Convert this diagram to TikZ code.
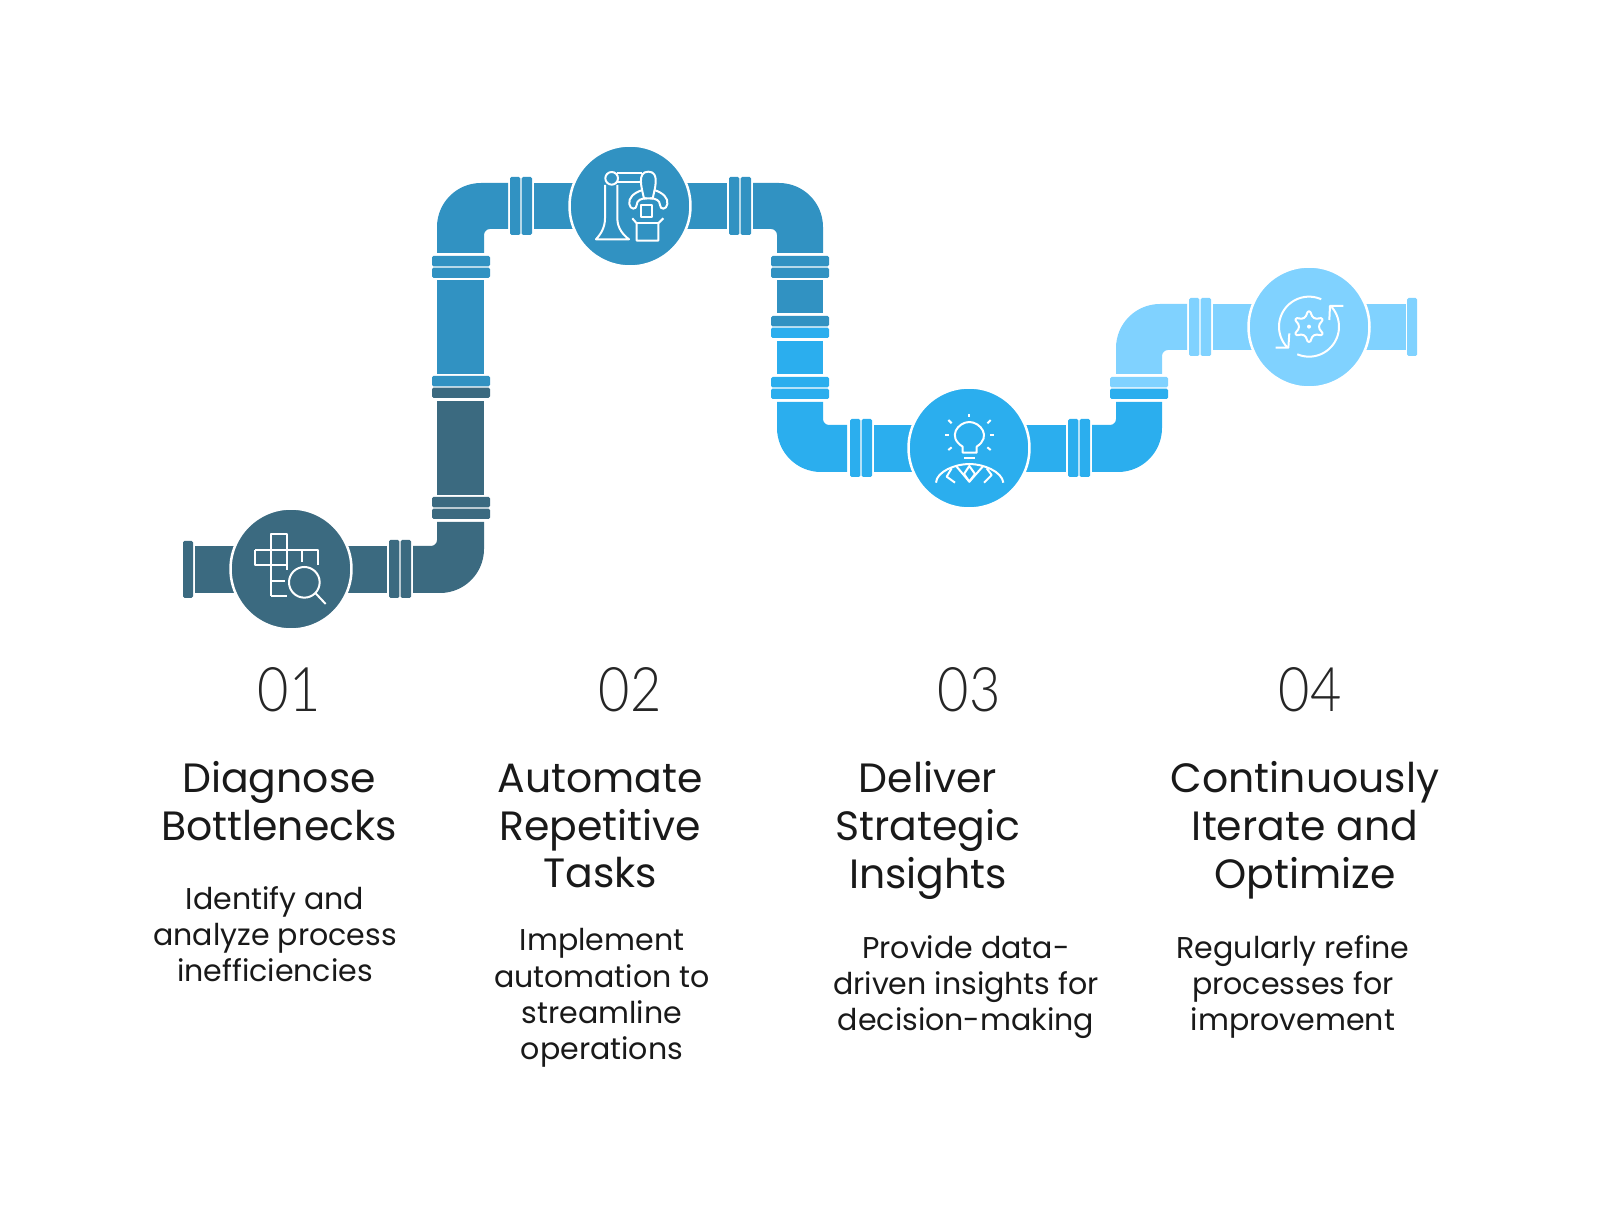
\documentclass[tikz,border=0pt]{standalone}
\usepackage{fontspec}
\usepackage{xcolor}
\usetikzlibrary{positioning}
\setmainfont{Poppins}
\newfontfamily\numfont[FakeStretch=0.88]{Lato Light}
\definecolor{pipedark}{HTML}{3B6A80}
\definecolor{pipeblue}{HTML}{3192C2}
\definecolor{pipebright}{HTML}{2BAEEE}
\definecolor{pipelight}{HTML}{80D2FF}
\tikzset{
  hub/.style={circle,draw=white,line width=0.05cm,inner sep=0pt,minimum size=2.42cm},
  iconline/.style={draw=white,line width=0.04cm,line join=round},
  bigbend/.style={rounded corners=0.88cm},
  smallbend/.style={rounded corners=0.12cm},
  numlabel/.style={font=\numfont\fontsize{35}{35}\selectfont,text=black!85},
  steptitle/.style={align=center,text=black!90,font=\fontsize{23.3}{27.3}\selectfont},
  stepdesc/.style={align=center,text=black!90,font=\fontsize{17.1}{20.6}\selectfont},
}
\begin{document}
\begin{tikzpicture}[x=0.02cm,y=-0.02cm]
\useasboundingbox (0,0) rectangle (1600,1212);
%straight pipes
\foreach \xa/\ya/\xb/\yb/\c in {195/546/291/593/pipedark,291/546/387/593/pipedark,
  437/401/484/495/pipedark,437/280/484/374/pipeblue,534/183/630/229/pipeblue,630/183/727/229/pipeblue,
  777/280/823/313/pipeblue,777/341/823/374/pipebright,874/425/969/472/pipebright,969/425/1066/472/pipebright,
  1213/304/1309/350/pipelight,1309/304/1406/350/pipelight}
  \fill[\c] (\xa,\ya) rectangle (\xb,\yb);
%end caps
\fill[pipedark,rounded corners=0.03cm] (183,541) rectangle (193,598);
\fill[pipelight,rounded corners=0.03cm] (1407,298) rectangle (1417,356);
%bends
\fill[pipedark] (413,546) [smallbend] -- (437,546) [sharp corners] -- (437,522) -- (484,522) [bigbend] -- (484,593) [sharp corners] -- (413,593) -- cycle;
\fill[pipeblue] (508,229) [smallbend] -- (484,229) [sharp corners] -- (484,253) -- (437,253) [bigbend] -- (437,183) [sharp corners] -- (508,183) -- cycle;
\fill[pipeblue] (753,229) [smallbend] -- (777,229) [sharp corners] -- (777,253) -- (823,253) [bigbend] -- (823,183) [sharp corners] -- (753,183) -- cycle;
\fill[pipebright] (847,425) [smallbend] -- (823,425) [sharp corners] -- (823,402) -- (777,402) [bigbend] -- (777,472) [sharp corners] -- (847,472) -- cycle;
\fill[pipebright] (1092,425) [smallbend] -- (1116,425) [sharp corners] -- (1116,402) -- (1162,402) [bigbend] -- (1162,472) [sharp corners] -- (1092,472) -- cycle;
\fill[pipelight] (1187,350) [smallbend] -- (1162,350) [sharp corners] -- (1162,374) -- (1116,374) [bigbend] -- (1116,304) [sharp corners] -- (1187,304) -- cycle;
%flanges on the level runs
\foreach \x/\y/\c in {400/569/pipedark,521/206/pipeblue,740/206/pipeblue,861/448/pipebright,1079/448/pipebright,1200/327/pipelight}
{
  \fill[shift={(\x,\y)},\c,rounded corners=0.03cm] (-11,-29) rectangle (-0.6,29);
  \fill[shift={(\x,\y)},\c,rounded corners=0.03cm] (0.6,-29) rectangle (11,29);
}
%flanges on the upright runs
\foreach \x/\y/\ca/\cb in {461/508/pipedark/pipedark,461/387/pipeblue/pipedark,461/267/pipeblue/pipeblue,
  800/267/pipeblue/pipeblue,800/327/pipeblue/pipebright,800/388/pipebright/pipebright,1139/388/pipelight/pipebright}
{
  \fill[shift={(\x,\y)},\ca,rounded corners=0.03cm] (-29,-11) rectangle (29,-0.6);
  \fill[shift={(\x,\y)},\cb,rounded corners=0.03cm] (-29,0.6) rectangle (29,11);
}
%hubs
\node[hub,fill=pipedark] (hubone) at (291,569) {};
\node[hub,fill=pipeblue] (hubtwo) at (630,206) {};
\node[hub,fill=pipebright] (hubthree) at (969,448) {};
\node[hub,fill=pipelight] (hubfour) at (1309,327) {};
%icon 01
\begin{scope}[shift={(170,380)},scale=1/3]
\draw[iconline] (303,648) -- (303,463) -- (350,463) -- (350,570);
\draw[iconline] (256,510) -- (443,510) -- (443,555);
\draw[iconline] (256,510) -- (256,555) -- (350,555);
\draw[iconline] (395,510) -- (395,545);
\draw[iconline] (303,602) -- (345,602);
\draw[iconline] (303,648) -- (350,648);
\draw[iconline] (403,607) circle (46);
\draw[iconline] (437,640) -- (467,672);
\end{scope}
%icon 02
\begin{scope}[shift={(420,130)},scale=1/3]
\draw[iconline] (575,145) circle (19);
\draw[iconline] (555,165) -- (555,265) .. controls (555,295) and (540,315) .. (528,328) -- (627,328) .. controls (610,315) and (592,295) .. (592,265) -- (592,165);
\draw[iconline] (592,130) -- (665,130);
\draw[iconline] (592,157) -- (665,157);
\draw[iconline] (685,125) .. controls (650,125) and (665,175) .. (672,205) -- (698,205) .. controls (705,175) and (720,125) .. (685,125);
\draw[iconline] (668,180) .. controls (640,188) and (625,205) .. (628,222) .. controls (630,240) and (650,240) .. (650,225) .. controls (650,210) and (665,205) .. (680,205);
\draw[iconline] (702,180) .. controls (730,188) and (745,205) .. (742,222) .. controls (740,240) and (720,240) .. (720,225) .. controls (720,210) and (705,205) .. (690,205);
\draw[iconline] (663,225) rectangle (697,260);
\draw[iconline] (637,265) -- (650,280) -- (650,332) -- (715,332) -- (715,280) -- (730,265);
\draw[iconline] (650,280) -- (715,280);
\end{scope}
%icon 03
\begin{scope}[shift={(760,290)},scale=1/3]
\draw[iconline] (608,488) -- (608,470) .. controls (560,440) and (595,396) .. (628,396) .. controls (661,396) and (696,440) .. (650,470) -- (650,488) -- cycle;
\draw[iconline] (612,505) -- (645,505);
\foreach \xa/\ya/\xb/\yb in {628/372/628/380,565/390/575/400,692/390/682/400,555/434/567/434,690/434/702/434,565/480/575/472,692/480/682/472}
  \draw[iconline] (\xa,\ya) -- (\xb,\yb);
\draw[iconline] (528,578) .. controls (530,545) and (585,522) .. (628,522) .. controls (671,522) and (726,545) .. (730,578);
\draw[iconline] (590,530) -- (628,575) -- (668,530);
\draw[iconline] (628,528) -- (612,552) -- (628,575) -- (645,552) -- cycle;
\draw[iconline] (575,535) -- (560,560) -- (585,578);
\draw[iconline] (680,535) -- (695,555) -- (672,578);
\end{scope}
%icon 04
\begin{scope}[shift={(1100,250)},scale=1/3]
\draw[iconline] plot[domain=-66:-224,samples=40] ({627+90*cos(\x)},{230+90*sin(\x)});
\draw[iconline] plot[domain=113:-41,samples=40] ({627+90*cos(\x)},{230+90*sin(\x)});
\draw[iconline] (527,293) -- (565,293) -- (568,250);
\draw[iconline] (730,168) -- (690,168) -- (688,210);
\draw[iconline,shift={(627,230)}] plot[smooth cycle,tension=1] coordinates {(90:46) (120:30) (150:46) (180:30) (210:46) (240:30) (270:46) (300:30) (330:46) (0:30) (30:46) (60:30)};
\fill[white] (627,230) circle (6);
\end{scope}
%numbers
\node[numlabel] (numone) at (289,690) {01};
\node[numlabel] (numtwo) at (630,690) {02};
\node[numlabel] (numthree) at (969,690) {03};
\node[numlabel] (numfour) at (1310,690) {04};
%titles
\node[steptitle] (titleone) at (279,801) {Diagnose\\Bottlenecks};
\node[steptitle] (titletwo) at (600,826) {Automate\\Repetitive\\Tasks};
\node[steptitle] (titlethree) at (928,830) {Deliver\\Strategic\\Insights};
\node[steptitle] (titlefour) at (1305,830) {Continuously\\Iterate and\\Optimize};
%descriptions
\node[stepdesc] (descone) at (275,934) {Identify and\\analyze process\\inefficiencies};
\node[stepdesc] (desctwo) at (602,998) {Implement\\automation to\\streamline\\operations};
\node[stepdesc] (descthree) at (966,987) {Provide data-\\driven insights for\\decision-making};
\node[stepdesc] (descfour) at (1293,987) {Regularly refine\\processes for\\improvement};
\end{tikzpicture}
\end{document}
